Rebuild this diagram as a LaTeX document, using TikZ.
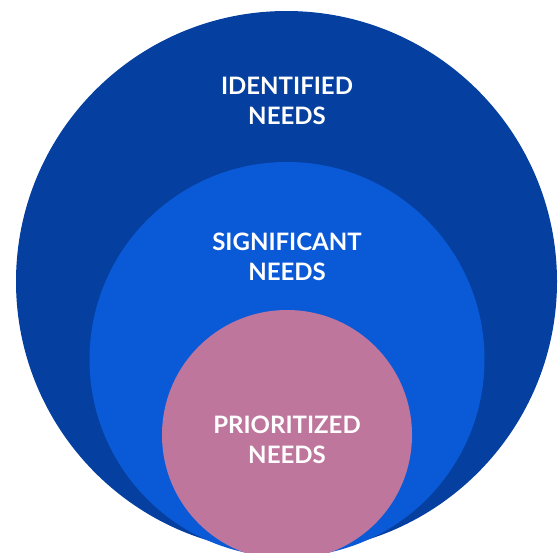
\documentclass[tikz,border=0pt]{standalone}
\usepackage{fontspec}
\setmainfont{Lato}
\usepackage{tikz}
\usetikzlibrary{positioning}
\definecolor{darkblue}{RGB}{5,64,160}
\definecolor{midblue}{RGB}{10,90,216}
\definecolor{rosepink}{RGB}{191,118,157}
\tikzset{
x=1pt, y=1pt, % one unit is one pixel of the reference
ring/.style={circle, inner sep=0pt, draw=none}, % sets the properties for each circle
label text/.style={text=white, font=\bfseries\fontsize{24}{30}\selectfont, align=center}, % the white captions
}
\begin{document}
\begin{tikzpicture}
    \useasboundingbox (0,0) rectangle (559,-552);
    \clip (0,0) rectangle (559,-552);
    \node[ring, fill=darkblue, minimum size=541] (outer) at (286.5,-281.5) {};
    \node[ring, fill=midblue, minimum size=395] (middle) at (287,-359.5) {};
    \node[ring, fill=rosepink, minimum size=250] (inner) at (287,-435) {};
    \node[label text] (identified) at (287,-101) {IDENTIFIED\\NEEDS};
    \node[label text] (significant) at (287,-256.5) {SIGNIFICANT\\NEEDS};
    \node[label text] (prioritized) at (287,-440) {PRIORITIZED\\NEEDS};
\end{tikzpicture}
\end{document}
